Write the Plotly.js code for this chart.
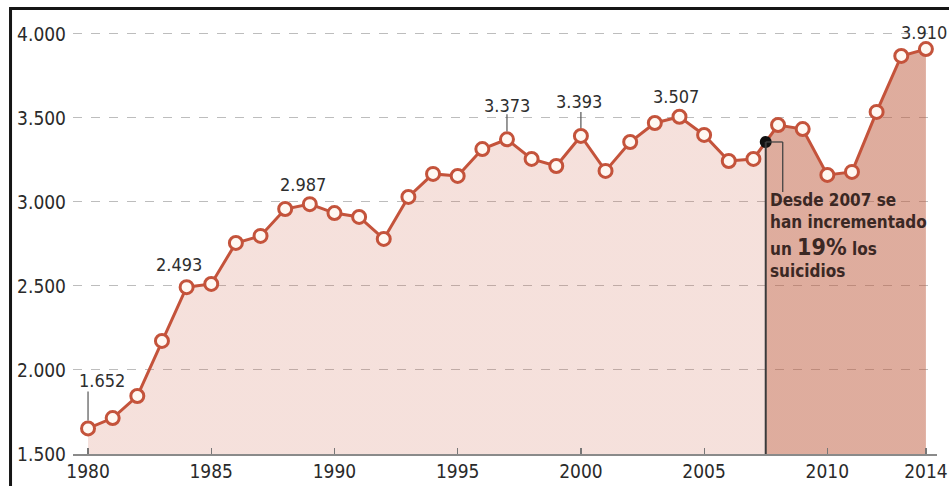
<!DOCTYPE html>
<html>
<head>
<meta charset="utf-8">
<script src="https://cdn.plot.ly/plotly-3.0.1.min.js"></script>
<style>
html,body{margin:0;padding:0;background:#fff;}
#chart{width:949px;height:486px;}
</style>
</head>
<body>
<div id="chart"></div>
<script>
// ---- data ----
const years = [1980,1981,1982,1983,1984,1985,1986,1987,1988,1989,1990,1991,1992,1993,1994,1995,1996,1997,1998,1999,2000,2001,2002,2003,2004,2005,2006,2007,2008,2009,2010,2011,2012,2013,2014];
const suicides = [1652,1714,1845,2173,2493,2512,2756,2798,2958,2987,2934,2911,2780,3030,3167,3155,3315,3373,3256,3214,3393,3185,3357,3470,3507,3399,3244,3256,3458,3434,3161,3179,3536,3869,3910];
const labelYears = [1980,1984,1989,1997,2000,2004,2014];
const labelTexts = ["1.652","2.493","2.987","3.373","3.393","3.507","3.910"];
const xTickVals = [1980,1985,1990,1995,2000,2005,2010,2014];
const xTickText = ["1980","1985","1990","1995","2000","2005","2010","2014"];
const yTickVals = [1500,2000,2500,3000,3500,4000];
const yTickText = ["1.500","2.000","2.500","3.000","3.500","4.000"];
const splitYear = 2007.5;   // start of highlighted period
const noteLines = ["Desde 2007 se", "han incrementado", "un <span style='font-size:23px'>19%</span> los", "suicidios"];

// ---- styles ----
const FONT = "'DejaVu Sans Condensed','DejaVu Sans',sans-serif";
const lineColor = "#c4533b";
const labelStyle = { // xshift, yshift, leader [y0,y1] (px) or null
  1980:{dx:14, dy:48, leader:[8,37]},
  1984:{dx:-8, dy:23, leader:null},
  1989:{dx:-7, dy:20, leader:null},
  1997:{dx:0, dy:34, leader:[8,25]},
  2000:{dx:-2, dy:34, leader:[8,24]},
  2004:{dx:-3, dy:20, leader:null},
  2014:{dx:-2, dy:17, leader:null}
};
const noteShift = [-58, -80.5, -105, -129];
const xr = [1979.39, 2014.45];
const yr = [1500, 4083];

// value on the line at the split point (for the black marker)
const i0 = years.indexOf(Math.floor(splitYear));
const t = splitYear - years[i0];
const splitVal = suicides[i0] + (suicides[i0+1]-suicides[i0])*t;
const frac = (splitYear - years[0])/(years[years.length-1]-years[0]);

const traces = [
  {
    x: years, y: suicides, type:'scatter', mode:'lines+markers',
    fill:'tozeroy',
    fillgradient:{type:'horizontal', start:years[0], stop:years[years.length-1],
      colorscale:[[0,'rgba(205,95,70,0.19)'],[frac,'rgba(205,95,70,0.19)'],[frac,'rgba(190,90,60,0.5)'],[1,'rgba(190,90,60,0.5)']]},
    line:{color:lineColor, width:3},
    marker:{symbol:'circle', size:13, color:'#fff8f2', line:{color:lineColor, width:3}},
    hoverinfo:'x+y', cliponaxis:false
  },
  {
    x:[splitYear], y:[splitVal], type:'scatter', mode:'markers',
    marker:{size:12, color:'#111'}, hoverinfo:'skip', cliponaxis:false
  }
];

const annotations = labelYears.map((yy,i)=>{
  const s = labelStyle[yy];
  return {x:yy, y:suicides[years.indexOf(yy)], xref:'x', yref:'y', text:labelTexts[i],
    showarrow:false, xshift:s.dx, yshift:s.dy,
    font:{family:FONT, size:18, color:'#2e2e2e'}};
});
noteLines.forEach((txt,i)=>{
  annotations.push({
    x:splitYear, y:splitVal, xref:'x', yref:'y', xanchor:'left', yanchor:'middle',
    xshift:3, yshift:noteShift[i], align:'left', showarrow:false, text:'<b>'+txt+'</b>',
    borderpad:0, font:{family:FONT, size:17, color:'#3b2824'}
  });
});

const shapes = [];
labelYears.forEach(yy=>{
  const s = labelStyle[yy];
  if(s.leader){
    shapes.push({type:'line', xref:'x', x0:yy, x1:yy, yref:'y', ysizemode:'pixel',
      yanchor:suicides[years.indexOf(yy)], y0:s.leader[0], y1:s.leader[1],
      line:{color:'#555', width:1.2}});
  }
});
// vertical line from axis to split marker
shapes.push({type:'line', xref:'x', yref:'y', x0:splitYear, x1:splitYear, y0:yr[0], y1:splitVal, line:{color:'#3a3a3a', width:2}});
// connector to the note
shapes.push({type:'line', xref:'x', xsizemode:'pixel', xanchor:splitYear, x0:0, x1:17, yref:'y', y0:splitVal, y1:splitVal, line:{color:'#444', width:1.3}});
shapes.push({type:'line', xref:'x', xsizemode:'pixel', xanchor:splitYear, x0:17, x1:17, yref:'y', ysizemode:'pixel', yanchor:splitVal, y0:0, y1:-50, line:{color:'#444', width:1.3}});
// outer frame (left and top)
shapes.push({type:'line', xref:'paper', yref:'paper', x0:-0.0723, x1:-0.0723, y0:-0.2, y1:1.0265, line:{color:'#151515', width:3}});
shapes.push({type:'line', xref:'paper', yref:'paper', x0:-0.074, x1:1.1, y0:1.0265, y1:1.0265, line:{color:'#151515', width:3}});

const layout = {
  width:949, height:486,
  margin:{l:73, r:12, t:20, b:32, pad:0},
  paper_bgcolor:'#fff', plot_bgcolor:'rgba(0,0,0,0)',
  showlegend:false,
  font:{family:FONT, color:'#333'},
  xaxis:{range:xr, tickvals:xTickVals, ticktext:xTickText, showgrid:false, zeroline:false,
    showline:true, linecolor:'#8a8a8a', linewidth:1.5, ticks:'inside', ticklen:6, tickcolor:'#777', tickwidth:1.2,
    tickfont:{family:FONT, size:19, color:'#2a2a2a'}, ticklabelstandoff:0},
  yaxis:{range:yr, tickvals:yTickVals, ticktext:yTickText, showgrid:true, gridcolor:'#bdbdbd', griddash:'dash', gridwidth:1,
    zeroline:false, showline:false, ticks:'', tickfont:{family:FONT, size:19, color:'#2a2a2a'}, ticklabelstandoff:6},
  annotations:annotations,
  shapes:shapes
};

Plotly.newPlot('chart', traces, layout, {displayModeBar:false, staticPlot:true});
</script>
</body>
</html>
